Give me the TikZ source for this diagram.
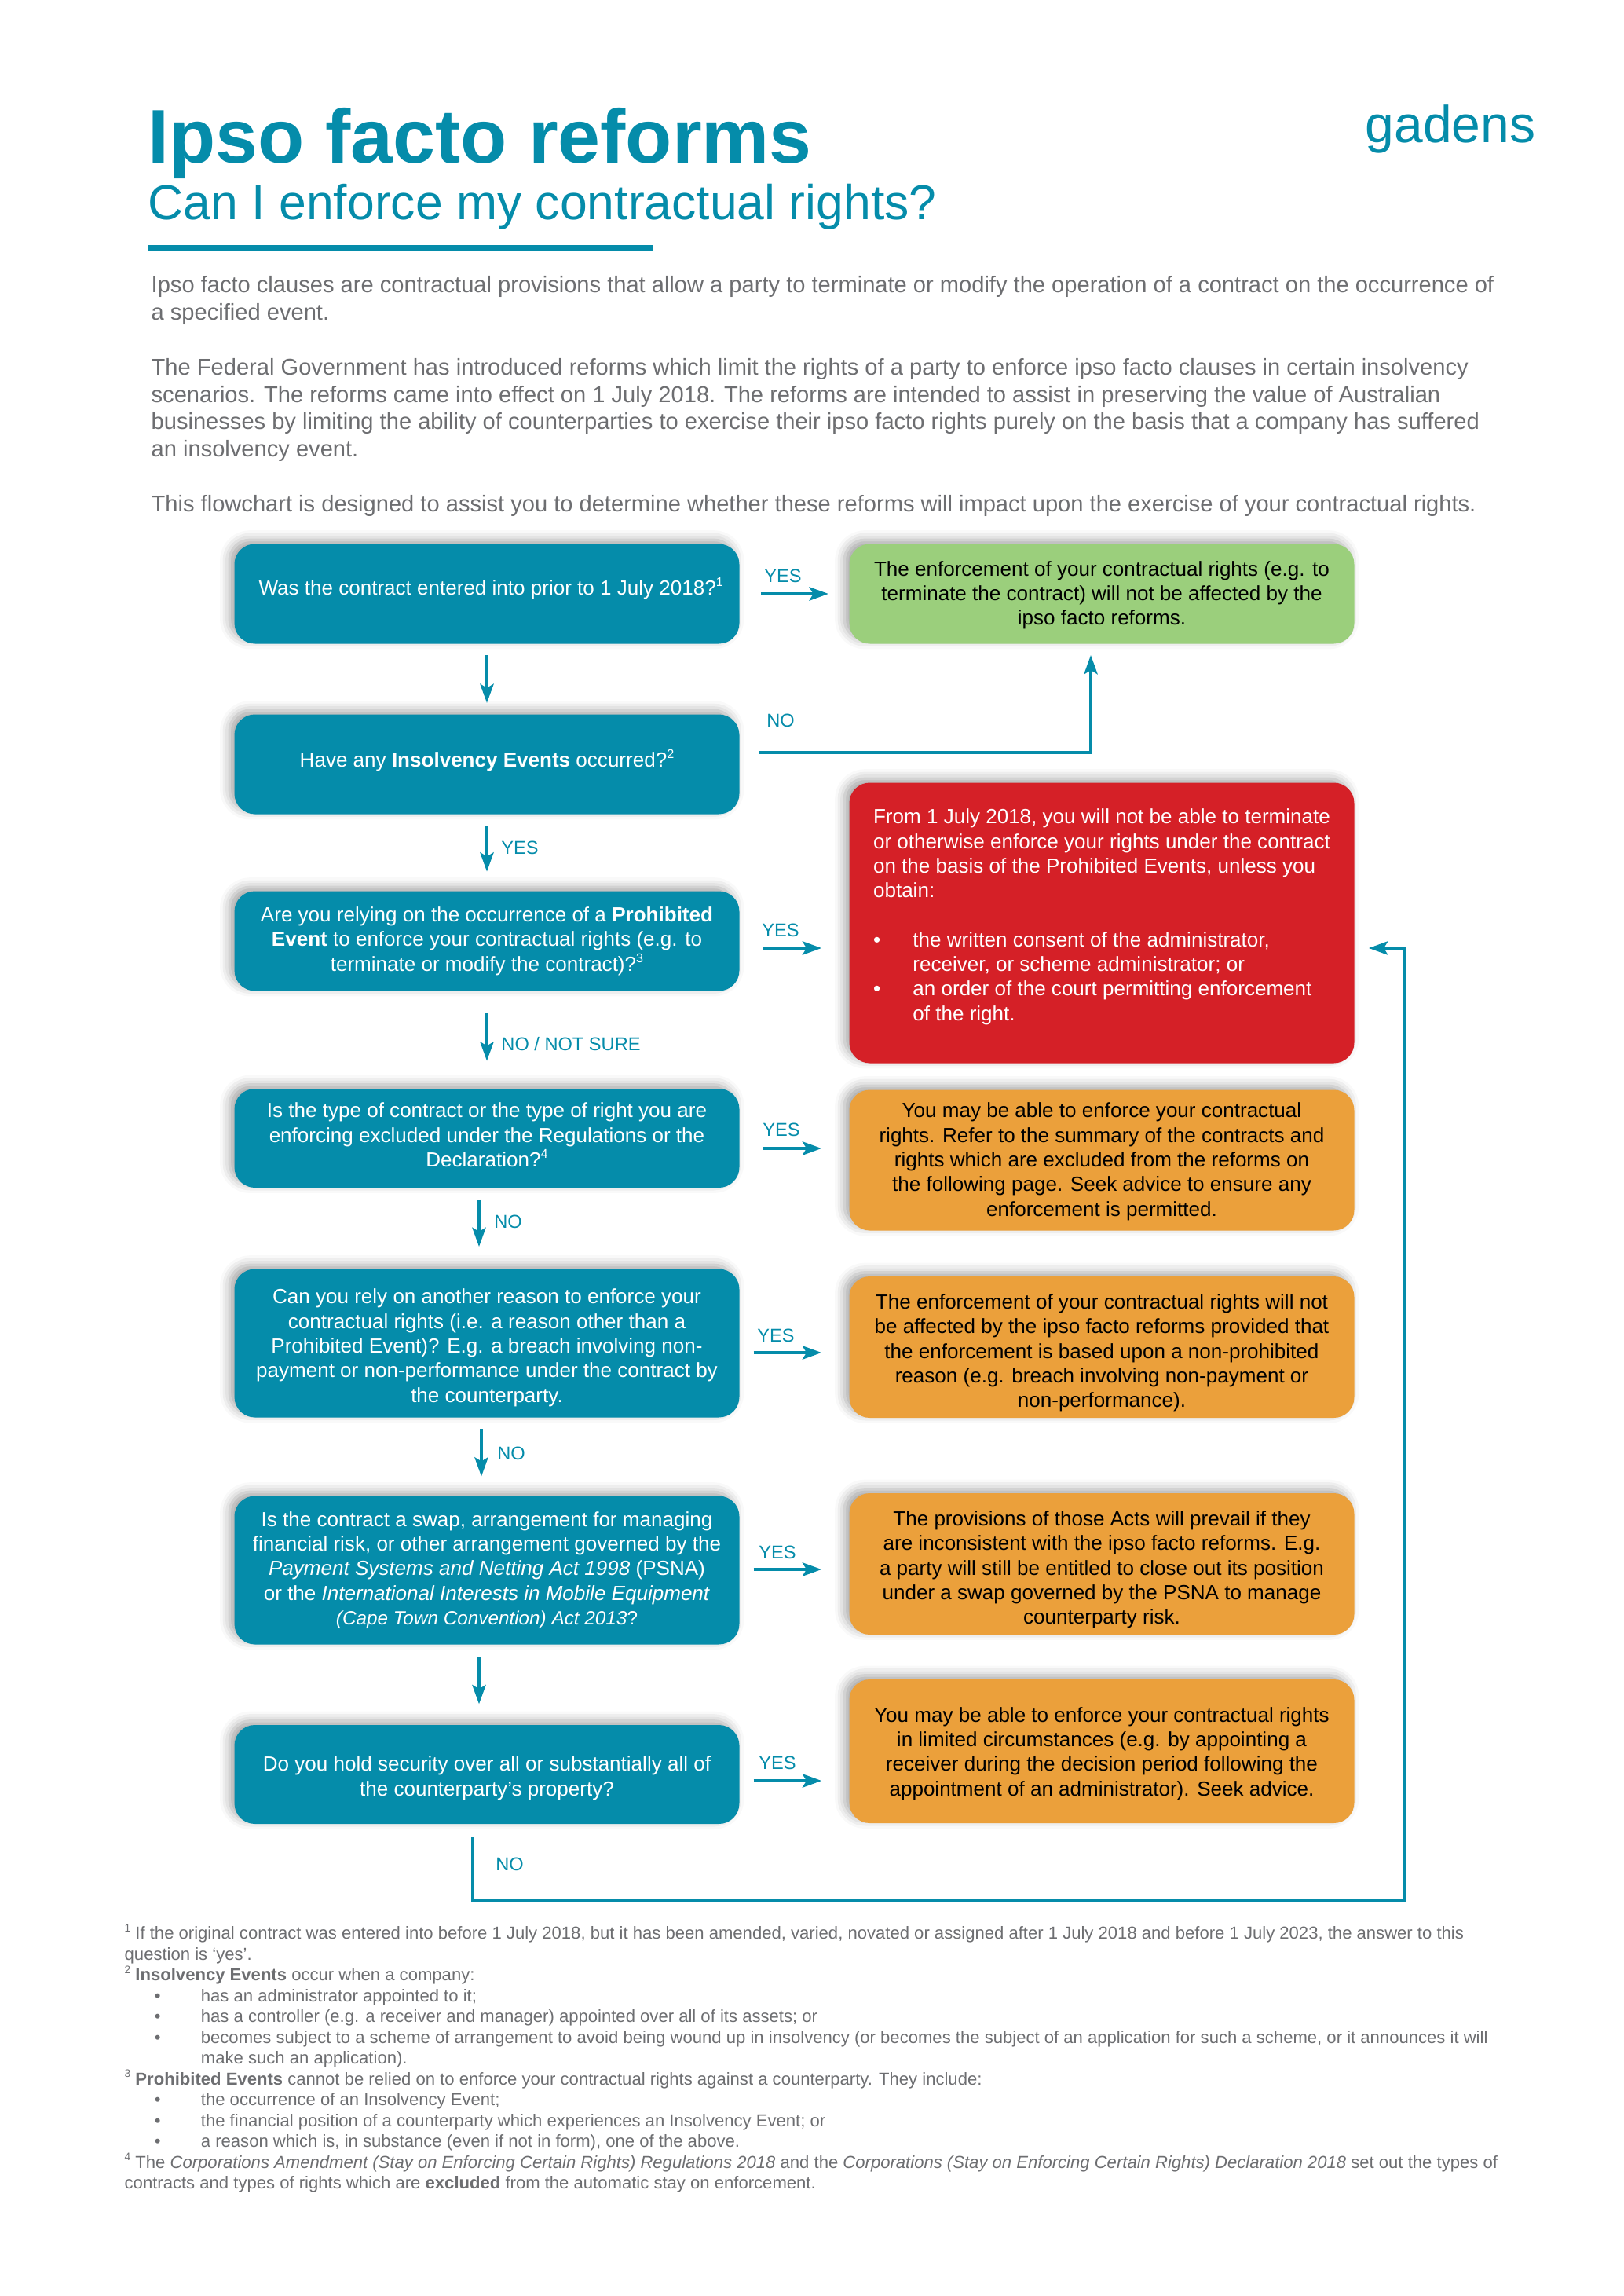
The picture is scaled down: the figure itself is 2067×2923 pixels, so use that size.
\documentclass[tikz,border=0pt]{standalone}
\usepackage{fontspec}
\setmainfont{Liberation Sans}
\usetikzlibrary{shadows.blur,arrows.meta}
\definecolor{gadteal}{HTML}{058CAA}
\definecolor{gadgreen}{HTML}{9BCF7C}
\definecolor{gadred}{HTML}{D52027}
\definecolor{gadorange}{HTML}{EBA03B}
\definecolor{gadgrey}{HTML}{6D6E71}
\newcommand{\pxu}{0.288pt}
\newcommand{\boxfont}{\fontsize{7.5}{9.02}\selectfont}
\newcommand{\introfont}{\fontsize{8.38}{10.03}\selectfont}
\newcommand{\notefont}{\fontsize{6.36}{7.63}\selectfont}
\newcommand{\notebul}{\hspace*{11pt}\makebox[17pt][l]{\textbullet}}
\newcommand{\notegap}{\hspace*{28pt}}
\newcommand{\redbul}{\makebox[14.5pt][l]{\textbullet}}
\newcommand{\smsup}[1]{\smash{\raisebox{.42em}{\scalebox{.62}{#1}}}}
\newcommand{\lowered}[1]{\rule{0pt}{#1}}
\tikzset{
  basebox/.style={rounded corners=7.5pt, align=center, font=\boxfont, inner sep=0pt,
    minimum width=643*\pxu,
    blur shadow={shadow xshift=-1.8pt, shadow yshift=1.5pt, shadow opacity=35, shadow blur radius=3.5pt}},
  askbox/.style={basebox, fill=gadteal, text=white},
  greenbox/.style={basebox, fill=gadgreen, text=black},
  orangebox/.style={basebox, fill=gadorange, text=black},
  redbox/.style={basebox, fill=gadred, text=white, align=left},
  flow/.style={->, gadteal, line width=1pt},
  tag/.style={gadteal, font=\fontsize{6.8}{8}\selectfont, inner sep=0pt}
}
\begin{document}
\begin{tikzpicture}[x=\pxu, y=-\pxu, >={Stealth[length=7pt,width=5pt,inset=1.5pt]}]
  \useasboundingbox (0,0) rectangle (2067,2923);
  % heading
  \node[gadteal, anchor=base west, inner sep=0pt, font=\fontsize{27.9}{30}\bfseries\selectfont] (title) at (188,208) {Ipso facto reforms};
  \node[gadteal, anchor=base west, inner sep=0pt, font=\fontsize{18}{20}\selectfont] (subtitle) at (188,279.5) {Can I enforce my contractual rights?};
  \node[gadteal, anchor=base east, inner sep=0pt, font=\fontsize{19}{20}\selectfont] (logo) at (1956,182) {gadens};
  \fill[gadteal] (188,312) rectangle (831,319);
  % intro
  \node[gadgrey, anchor=north west, inner sep=0pt, align=left, font=\introfont] (intro) at (192,351) {%
    Ipso facto clauses are contractual provisions that allow a party to terminate or modify the operation of a contract on the occurrence of\\
    a specified event.\\[10.03pt]
    The Federal Government has introduced reforms which limit the rights of a party to enforce ipso facto clauses in certain insolvency\\
    scenarios. The reforms came into effect on 1 July 2018. The reforms are intended to assist in preserving the value of Australian\\
    businesses by limiting the ability of counterparties to exercise their ipso facto rights purely on the basis that a company has suffered\\
    an insolvency event.\\[10.03pt]
    This flowchart is designed to assist you to determine whether these reforms will impact upon the exercise of your contractual rights.};
  % questions
  \node[askbox, minimum height=127*\pxu] (q1) at (620,756) {\smash{\raisebox{-.5pt}{\hspace*{3pt}Was the contract entered into prior to 1 July 2018?\smsup{1}}}};
  \node[askbox, minimum height=127*\pxu] (q2) at (620,973) {\smash{\raisebox{-1pt}{Have any \textbf{Insolvency Events} occurred?\smsup{2}}}};
  \node[askbox, minimum height=127*\pxu] (q3) at (620,1198) {Are you relying on the occurrence of a \textbf{Prohibited}\\\textbf{Event} to enforce your contractual rights (e.g. to\\terminate or modify the contract)?\smsup{3}};
  \node[askbox, minimum height=126*\pxu] (q4) at (620,1449) {Is the type of contract or the type of right you are\\enforcing excluded under the Regulations or the\\Declaration?\smsup{4}\rule[-2.5pt]{0pt}{0pt}};
  \node[askbox, minimum height=189*\pxu] (q5) at (620,1710) {\lowered{8.7pt}Can you rely on another reason to enforce your\\contractual rights (i.e. a reason other than a\\Prohibited Event)? E.g. a breach involving non-\\payment or non-performance under the contract by\\the counterparty.};
  \node[askbox, minimum height=189*\pxu] (q6) at (620,1999) {Is the contract a swap, arrangement for managing\\financial risk, or other arrangement governed by the\\\textit{Payment Systems and Netting Act 1998} (PSNA)\\or the \textit{International Interests in Mobile Equipment}\\{\fontsize{7}{9.02}\selectfont\textit{(Cape Town Convention) Act 2013}?}};
  \node[askbox, minimum height=126*\pxu] (q7) at (620,2259) {\lowered{8.1pt}Do you hold security over all or substantially all of\\the counterparty’s property?};
  % outcomes
  \node[greenbox, minimum height=127*\pxu] (out1) at (1403,756) {\lowered{6.5pt}The enforcement of your contractual rights (e.g. to\\terminate the contract) will not be affected by the\\ipso facto reforms.};
  \node[redbox, minimum height=357*\pxu] (out2) at (1403,1175) {From 1 July 2018, you will not be able to terminate\\or otherwise enforce your rights under the contract\\on the basis of the Prohibited Events, unless you\\obtain:\\[9.02pt]
    \redbul the written consent of the administrator,\\
    \hspace*{14.5pt}receiver, or scheme administrator; or\\
    \redbul an order of the court permitting enforcement\\
    \hspace*{14.5pt}of the right.\\[-3pt]\mbox{}};
  \node[orangebox, minimum height=179*\pxu] (out3) at (1403,1477) {\lowered{6.5pt}You may be able to enforce your contractual\\rights. Refer to the summary of the contracts and\\rights which are excluded from the reforms on\\the following page. Seek advice to ensure any\\enforcement is permitted.};
  \node[orangebox, minimum height=180*\pxu] (out4) at (1403,1715) {\lowered{9.7pt}The enforcement of your contractual rights will not\\be affected by the ipso facto reforms provided that\\the enforcement is based upon a non-prohibited\\reason (e.g. breach involving non-payment or\\non-performance).};
  \node[orangebox, minimum height=180*\pxu] (out5) at (1403,1991) {\lowered{9.7pt}The provisions of those Acts will prevail if they\\are inconsistent with the ipso facto reforms. E.g.\\a party will still be entitled to close out its position\\under a swap governed by the PSNA to manage\\counterparty risk.};
  \node[orangebox, minimum height=183*\pxu] (out6) at (1403,2229.5) {\lowered{7.1pt}You may be able to enforce your contractual rights\\in limited circumstances (e.g. by appointing a\\receiver during the decision period following the\\appointment of an administrator). Seek advice.};
  % yes arrows
  \draw[flow, shorten <=7.7pt, shorten >=7.5pt] (q1.east) -- (out1.west);
  \draw[flow, shorten <=8.3pt, shorten >=10pt] ([yshift=-9*\pxu]q3.east) -- ([yshift=-9*\pxu]q3.east -| out2.west);
  \draw[flow, shorten <=8.3pt, shorten >=10pt] ([yshift=-13*\pxu]q4.east) -- ([yshift=-13*\pxu]q4.east -| out3.west);
  \draw[flow, shorten <=5pt, shorten >=10pt] ([yshift=-12*\pxu]q5.east) -- ([yshift=-12*\pxu]q5.east -| out4.west);
  \draw[flow, shorten <=5pt, shorten >=10pt] ([yshift=1*\pxu]q6.east) -- ([yshift=1*\pxu]q6.east -| out5.west);
  \draw[flow, shorten <=5pt, shorten >=10pt] ([yshift=-8*\pxu]q7.east) -- ([yshift=-8*\pxu]q7.east -| out6.west);
  % down arrows
  \draw[flow, shorten <=4pt, shorten >=4pt] (q1.south) -- (q2.north);
  \draw[flow, shorten <=4pt, shorten >=7pt] (q2.south) -- (q3.north);
  \draw[flow, shorten <=8pt, shorten >=10pt] (q3.south) -- (q4.north);
  \draw[flow, shorten <=4.4pt, shorten >=8pt] ([xshift=-10*\pxu]q4.south) -- ([xshift=-10*\pxu]q5.north);
  \draw[flow, shorten <=4pt, shorten >=7pt] ([xshift=-7*\pxu]q5.south) -- ([xshift=-7*\pxu]q6.north);
  \draw[flow, shorten <=4.4pt, shorten >=7.5pt] ([xshift=-10*\pxu]q6.south) -- ([xshift=-10*\pxu]q7.north);
  % the two long routes
  \coordinate (elbow1) at (1389,958);
  \draw[flow, shorten >=4pt] ([yshift=15*\pxu]q2.east) ++(25,0) -- (elbow1) -- (elbow1 |- out1.south);
  \coordinate (elbow2) at (602,2420);
  \coordinate (elbow3) at (1789,2420);
  \coordinate (retend) at (1743,1207);
  \draw[flow] (elbow2 |- q7.south) ++(0,16) -- (elbow2) -- (elbow3) -- (elbow3 |- retend) -- (retend);
  % tags
  \node[tag] (yes1) at (997,733) {YES};
  \node[tag] (no1) at (994,917) {NO};
  \node[tag] (yes2) at (662,1079) {YES};
  \node[tag] (yes3) at (994,1184) {YES};
  \node[tag] (nosure) at (727,1329) {NO / NOT SURE};
  \node[tag] (yes4) at (995,1438) {YES};
  \node[tag] (no2) at (647,1555) {NO};
  \node[tag] (yes5) at (988,1700) {YES};
  \node[tag] (no3) at (651,1850) {NO};
  \node[tag] (yes6) at (990,1976) {YES};
  \node[tag] (yes7) at (990,2244) {YES};
  \node[tag] (no4) at (649,2373) {NO};
  % footnotes
  \node[gadgrey, anchor=north west, inner sep=0pt, align=left, font=\notefont] (notes) at (158,2452) {%
    \smsup{1} If the original contract was entered into before 1 July 2018, but it has been amended, varied, novated or assigned after 1 July 2018 and before 1 July 2023, the answer to this\\
    question is ‘yes’.\\
    \smsup{2} \textbf{Insolvency Events} occur when a company:\\
    \notebul has an administrator appointed to it;\\
    \notebul has a controller (e.g. a receiver and manager) appointed over all of its assets; or\\
    \notebul becomes subject to a scheme of arrangement to avoid being wound up in insolvency (or becomes the subject of an application for such a scheme, or it announces it will\\
    \notegap make such an application).\\
    \smsup{3} \textbf{Prohibited Events} cannot be relied on to enforce your contractual rights against a counterparty. They include:\\
    \notebul the occurrence of an Insolvency Event;\\
    \notebul the financial position of a counterparty which experiences an Insolvency Event; or\\
    \notebul a reason which is, in substance (even if not in form), one of the above.\\
    \smsup{4} The \textit{Corporations Amendment (Stay on Enforcing Certain Rights) Regulations 2018} and the \textit{Corporations (Stay on Enforcing Certain Rights) Declaration 2018} set out the types of\\
    contracts and types of rights which are \textbf{excluded} from the automatic stay on enforcement.};
\end{tikzpicture}
\end{document}
